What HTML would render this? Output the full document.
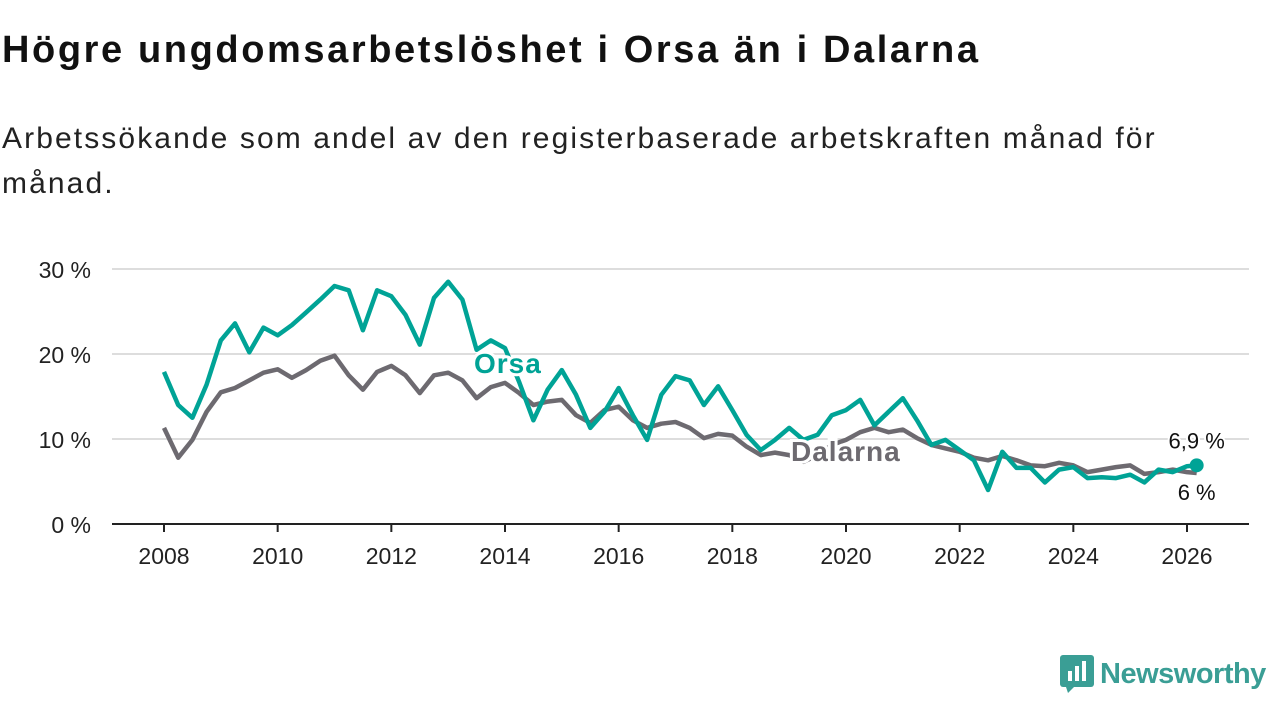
<!DOCTYPE html>
<html><head><meta charset="utf-8"><style>
body{margin:0;background:#fff;width:1280px;height:720px;overflow:hidden;font-family:"Liberation Sans","DejaVu Sans",sans-serif;color:#111}
h1{position:absolute;left:2px;top:29px;margin:0;font-size:38px;font-weight:bold;letter-spacing:2.6px;white-space:nowrap}
p{position:absolute;left:2px;top:116px;margin:0;font-size:30px;line-height:45px;width:1200px;color:#222;letter-spacing:2.1px}
svg{position:absolute;left:0;top:0}
</style></head><body>
<h1>Högre ungdomsarbetslöshet i Orsa än i Dalarna</h1>
<p>Arbetssökande som andel av den registerbaserade arbetskraften månad för månad.</p>
<svg id="c" width="1280" height="720"></svg>
<div style="position:absolute;left:1060px;top:655px;display:flex;align-items:center;">
<svg width="34" height="38" style="position:static"><rect x="0" y="0" width="34" height="32" rx="3" fill="#3a9e95"/><polygon points="6,32 14,32 8,38" fill="#3a9e95"/><rect x="8" y="16" width="4" height="10" fill="#fff"/><rect x="15" y="11" width="4" height="15" fill="#fff"/><rect x="22" y="6" width="4" height="20" fill="#fff"/></svg>
<span style="font-size:29px;color:#3a9e95;margin-left:6px;font-weight:bold;letter-spacing:-0.5px">Newsworthy</span></div>
<script>
const years=[2008,2010,2012,2014,2016,2018,2020,2022,2024,2026];
const yTicks=[0,10,20,30];
const startYear=2008, stepYears=0.25;
const orsa=[17.9,14.0,12.5,16.4,21.6,23.6,20.2,23.1,22.2,23.4,24.9,26.4,28.0,27.5,22.8,27.5,26.8,24.6,21.1,26.6,28.5,26.4,20.5,21.6,20.7,16.7,12.2,15.8,18.1,15.2,11.3,13.2,16.0,12.8,9.9,15.2,17.4,16.9,14.0,16.2,13.4,10.5,8.7,9.9,11.3,9.9,10.5,12.8,13.4,14.6,11.6,13.2,14.8,12.2,9.3,9.9,8.7,7.5,4.0,8.5,6.6,6.6,4.9,6.4,6.7,5.4,5.5,5.4,5.8,4.9,6.4,6.1,6.8,6.9];
const dalarna=[11.3,7.8,9.9,13.2,15.5,16.0,16.9,17.8,18.2,17.2,18.1,19.2,19.8,17.5,15.8,17.9,18.6,17.5,15.4,17.5,17.8,16.9,14.8,16.1,16.6,15.4,14.0,14.4,14.6,12.8,11.9,13.4,13.8,12.2,11.3,11.8,12.0,11.3,10.1,10.6,10.4,9.1,8.1,8.4,8.1,7.3,8.1,9.3,9.9,10.8,11.3,10.8,11.1,10.1,9.3,8.9,8.5,7.8,7.5,8.0,7.5,6.9,6.8,7.2,6.9,6.1,6.4,6.7,6.9,5.9,6.1,6.4,6.1,6.0];
const endYear=2026.17;
const X=y=>164+(y-2008)*(1187-164)/18;
const Y=v=>524-v*8.5;
const ns="http://www.w3.org/2000/svg",svg=document.getElementById('c');
function mk(t,a){const e=document.createElementNS(ns,t);for(const k in a)e.setAttribute(k,a[k]);svg.appendChild(e);return e;}
yTicks.forEach(v=>{
 if(v>0){const g=mk('line',{x1:112,x2:1249,y1:Y(v),y2:Y(v),stroke:'#ddd','stroke-width':2});
 
 }
 const t=mk('text',{x:91,y:Y(v)+9,'text-anchor':'end','font-size':23,fill:'#222'});t.textContent=v+' %';
 
 
});
const ax=mk('line',{x1:112,x2:1249,y1:524,y2:524,stroke:'#222','stroke-width':2});


years.forEach(y=>{
 mk('line',{x1:X(y),x2:X(y),y1:524,y2:532,stroke:'#222','stroke-width':2});
 const t=mk('text',{x:X(y),y:564,'text-anchor':'middle','font-size':23,fill:'#222'});t.textContent=y;
 
 
});
function xAt(i,n){return i===n-1?X(endYear):X(startYear+i*stepYears);}
function path(arr,col,name){
 const d=arr.map((v,i)=>(i?'L':'M')+xAt(i,arr.length).toFixed(1)+','+Y(v).toFixed(1)).join('');
 const p=mk('path',{d:d,fill:'none',stroke:col,'stroke-width':4.5,'stroke-linejoin':'round'});
 
 
}
path(dalarna,'#6d6a70','dalarna-line');
path(orsa,'#00a396','orsa-line');
function lab(x,y,txt,col,name){const t=mk('text',{x:x,y:y,'font-size':28,'font-weight':'bold',fill:col,stroke:'#fff','stroke-width':6,'paint-order':'stroke','letter-spacing':1});t.textContent=txt;
 
 }
lab(474,373,'Orsa','#00a396','orsa-label');
lab(791,461,'Dalarna','#6d6a70','dalarna-label');
const dot=mk('circle',{cx:X(endYear),cy:Y(orsa[orsa.length-1]),r:7,fill:'#00a396'});


function endLab(y,txt,name){const t=mk('text',{x:X(endYear),y:y,'text-anchor':'middle','font-size':22,fill:'#111',stroke:'#fff','stroke-width':4,'paint-order':'stroke'});t.textContent=txt;
 
 }
endLab(Y(orsa[orsa.length-1])-17,orsa[orsa.length-1].toString().replace('.',',')+' %','orsa-end-label');
endLab(Y(dalarna[dalarna.length-1])+27,dalarna[dalarna.length-1].toString().replace('.',',')+' %','dalarna-end-label');
</script>
</body></html>
